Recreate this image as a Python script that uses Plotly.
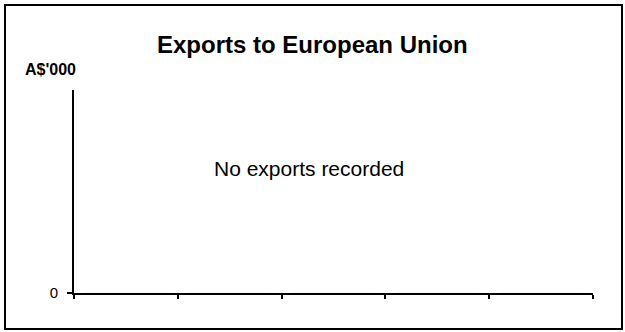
import plotly.graph_objects as go

# Data
categories = ["2003", "2004", "2005", "2006", "2007"]
exports_values = [0, 0, 0, 0, 0]
y_tick_values = [0]
y_tick_labels = ["0"]

title_text = "Exports to European Union"
unit_text = "A$'000"
note_text = "No exports recorded"

W, H = 625, 332
L, R, T, B = 74, 593, 90, 293  # plot area in pixels

def px(x):
    return (x - L) / (R - L)

def py(y):
    return (B - y) / (B - T)

FONT = "Arial, Liberation Sans, sans-serif"

fig = go.Figure()
fig.add_trace(go.Bar(x=categories, y=exports_values, marker_color="#000080",
                     showlegend=False, hoverinfo="skip"))

fig.update_layout(
    width=W, height=H,
    margin=dict(l=L, r=W - R, t=T, b=H - B, pad=0),
    paper_bgcolor="white", plot_bgcolor="white",
    font=dict(family=FONT, color="black"),
    xaxis=dict(type="category", range=[-0.5, len(categories) - 0.5],
               showline=True, linecolor="black", linewidth=2,
               ticks="outside", ticklen=4, tickwidth=2, tickcolor="black",
               tickson="boundaries", showticklabels=False,
               showgrid=False, zeroline=False),
    yaxis=dict(range=[0, 1], tickvals=y_tick_values, ticktext=y_tick_labels,
               showline=True, linecolor="black", linewidth=2,
               ticks="outside", ticklen=5, tickwidth=2, tickcolor="black",
               ticklabelstandoff=6,
               tickfont=dict(size=15, family=FONT, color="black"),
               showgrid=False, zeroline=False),
    annotations=[
        dict(text="<b>" + title_text + "</b>", xref="paper", yref="paper",
             x=px(312), y=py(45), xanchor="center", yanchor="middle",
             showarrow=False, font=dict(size=24, family=FONT, color="black")),
        dict(text="<b>" + unit_text + "</b>", xref="paper", yref="paper",
             x=px(50), y=py(70), xanchor="center", yanchor="middle",
             showarrow=False, font=dict(size=16, family=FONT, color="black")),
        dict(text=note_text, xref="paper", yref="paper",
             x=px(309), y=py(168.7), xanchor="center", yanchor="middle",
             showarrow=False, font=dict(size=21, family=FONT, color="black")),
    ],
    shapes=[
        dict(type="rect", xref="paper", yref="paper",
             x0=px(5), x1=px(622), y0=py(329), y1=py(5),
             line=dict(color="black", width=2), fillcolor="rgba(0,0,0,0)",
             layer="above"),
    ],
)

fig.write_html("out.html", config={"responsive": False, "displayModeBar": False},
               post_script="document.body.style.margin='0';document.body.style.overflow='hidden';")
